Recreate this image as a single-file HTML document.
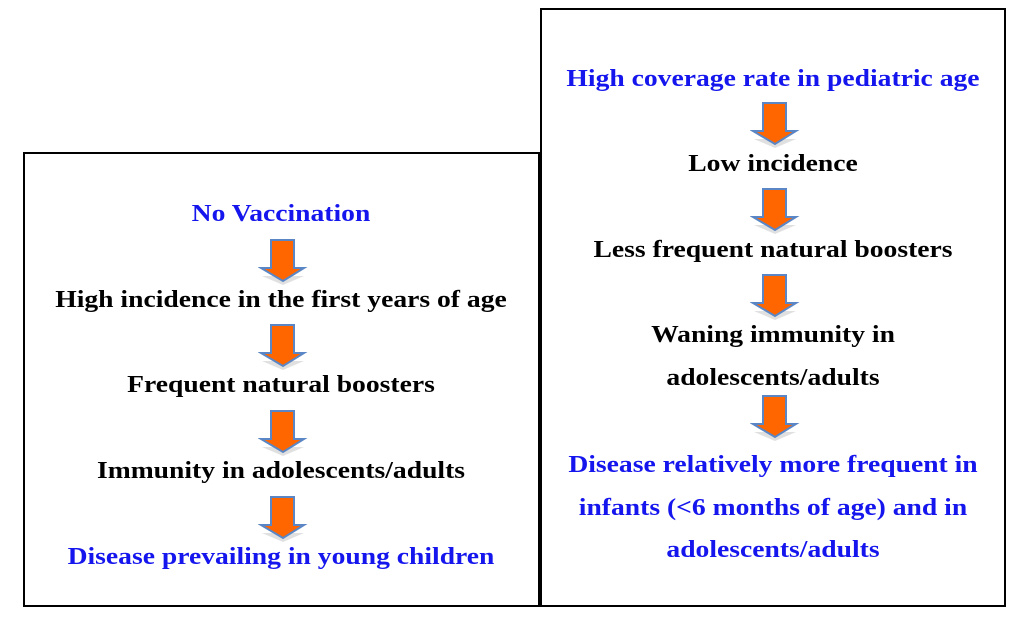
<!DOCTYPE html>
<html><head><meta charset="utf-8"><style>
html,body{margin:0;padding:0;background:#fff;width:1024px;height:621px;overflow:hidden;position:relative}
.box{position:absolute;border:2px solid #000;box-sizing:border-box}
.t{position:absolute;width:600px;text-align:center;font-family:"Liberation Serif","Times New Roman",serif;font-weight:bold;font-size:24px;line-height:28px;white-space:nowrap;color:#000;transform:scaleX(1.15);transform-origin:300px 0}
.b{color:#1515ee}
.arr{position:absolute;width:50px;height:46px}
</style></head><body>
<div class="box" style="left:23px;top:152px;width:517px;height:455px"></div>
<div class="box" style="left:540px;top:8px;width:466px;height:599px"></div>

<div class="t b" style="left:-19px;top:200px">No Vaccination</div>
<div class="t" style="left:-19px;top:286px">High incidence in the first years of age</div>
<div class="t" style="left:-19px;top:371px">Frequent natural boosters</div>
<div class="t" style="left:-19px;top:457px">Immunity in adolescents/adults</div>
<div class="t b" style="left:-19px;top:543px">Disease prevailing in young children</div>

<div class="t b" style="left:473px;top:65px">High coverage rate in pediatric age</div>
<div class="t" style="left:473px;top:150px">Low incidence</div>
<div class="t" style="left:473px;top:236px">Less frequent natural boosters</div>
<div class="t" style="left:473px;top:321px">Waning immunity in<br><span style="display:inline-block;margin-top:15px">adolescents/adults</span></div>
<div class="t b" style="left:473px;top:444px;line-height:42.5px">Disease relatively more frequent in<br>infants (&lt;6 months of age) and in<br>adolescents/adults</div>

<script>
const arrows=[[258,238],[258,323],[258,409],[258,495],[750,101],[750,187],[750,273],[750,394]];
arrows.forEach((p,i)=>{
 const d=document.createElement('div');
 d.className='arr';d.style.left=p[0]+'px';d.style.top=p[1]+'px';
 
 
 d.innerHTML='<svg width="50" height="48" viewBox="0 0 50 48"><polygon points="4,38 46,38 25,47" fill="#ccc" opacity="0.6"/><polygon points="13,2 36,2 36,30 46,30 25,43 3,30 13,30" fill="#ff6600" stroke="#5a86c5" stroke-width="2"/></svg>';
 document.body.appendChild(d);
});
</script>
</body></html>
